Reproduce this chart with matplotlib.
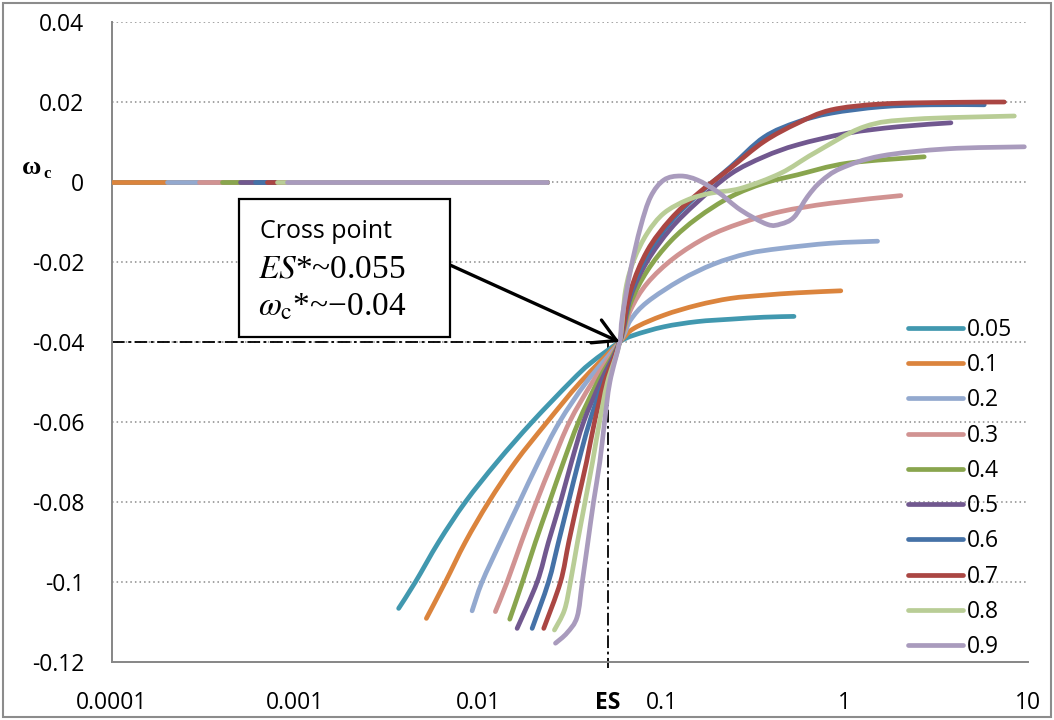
import matplotlib
matplotlib.use("Agg")
import numpy as np
import matplotlib.pyplot as plt
from matplotlib.patches import Rectangle, PathPatch
from matplotlib.path import Path
from matplotlib.lines import Line2D

plt.rcParams["font.family"] = ["Open Sans", "DejaVu Sans"]
plt.rcParams["mathtext.fontset"] = "stix"

# series labels / colours (Excel 2007 palette)
labels = ["0.05", "0.1", "0.2", "0.3", "0.4", "0.5", "0.6", "0.7", "0.8", "0.9"]
colors = ["#4198AF", "#DB843D", "#93A9CF", "#D19392", "#89A54E",
          "#71588F", "#4572A7", "#AA4643", "#B9CD96", "#A99BBD"]

# flat omega_c = 0 part of each series (start, end)
zero_start = [0.0001, 0.0001, 0.0002, 0.0003, 0.0004, 0.0005, 0.0006, 0.0007, 0.0008, 0.0009]
zero_end = 0.0238

# main curves
x_005 = [0.00367, 0.00453, 0.00607, 0.00849, 0.01265, 0.01965, 0.0318, 0.0409, 0.059,
         0.0706, 0.1029, 0.1567, 0.238, 0.362, 0.528]
y_005 = [-0.1066, -0.1, -0.09, -0.08, -0.07, -0.06, -0.05, -0.0453, -0.04,
         -0.0383, -0.0362, -0.0349, -0.0343, -0.0338, -0.0336]

x_01 = [0.0052, 0.0066, 0.00849, 0.01138, 0.01593, 0.02373, 0.0361, 0.059,
        0.0706, 0.1029, 0.1567, 0.238, 0.362, 0.552, 0.951]
y_01 = [-0.1091, -0.1, -0.09, -0.08, -0.07, -0.06, -0.05, -0.04,
        -0.0366, -0.0333, -0.0308, -0.0291, -0.0283, -0.0277, -0.0272]

x_02 = [0.00924, 0.01047, 0.01319, 0.01675, 0.02128, 0.02771, 0.03892, 0.059,
        0.0677, 0.0835, 0.127, 0.193, 0.294, 0.447, 0.839, 1.509]
y_02 = [-0.1072, -0.1, -0.09, -0.08, -0.07, -0.06, -0.05, -0.04,
        -0.0345, -0.0300, -0.0245, -0.0205, -0.0179, -0.0166, -0.0153, -0.0148]

x_03 = [0.01238, 0.01435, 0.01718, 0.02074, 0.02537, 0.03142, 0.04198, 0.059,
        0.0677, 0.0835, 0.1168, 0.1777, 0.270, 0.447, 0.839, 2.023]
y_03 = [-0.1074, -0.1, -0.09, -0.08, -0.07, -0.06, -0.05, -0.04,
        -0.032, -0.0253, -0.0190, -0.0137, -0.0103, -0.0074, -0.0053, -0.0034]

x_04 = [0.01483, 0.0174, 0.02049, 0.02443, 0.02914, 0.03519, 0.04469, 0.059,
        0.0677, 0.0835, 0.112, 0.1567, 0.238, 0.362, 0.552, 1.035, 2.713]
y_04 = [-0.1093, -0.1, -0.09, -0.08, -0.07, -0.06, -0.05, -0.04,
        -0.0303, -0.0222, -0.0148, -0.0090, -0.0037, -0.0003, 0.0018, 0.0047, 0.0063]

x_05 = [0.01627, 0.02093, 0.02413, 0.02806, 0.03222, 0.0375, 0.04642, 0.059,
        0.0677, 0.0835, 0.112, 0.1567, 0.238, 0.362, 0.552, 1.035, 1.941, 3.795]
y_05 = [-0.1116, -0.1, -0.09, -0.08, -0.07, -0.06, -0.05, -0.04,
        -0.0287, -0.0198, -0.0117, -0.0050, 0.0020, 0.0063, 0.0093, 0.0122, 0.0138, 0.0148]

x_06 = [0.01965, 0.02413, 0.02737, 0.03102, 0.03519, 0.04043, 0.04819, 0.059,
        0.0677, 0.0835, 0.112, 0.1567, 0.238, 0.362, 0.552, 0.839, 1.573, 2.951, 5.77]
y_06 = [-0.1116, -0.1, -0.09, -0.08, -0.07, -0.06, -0.05, -0.04,
        -0.0280, -0.0182, -0.0100, -0.0033, 0.0038, 0.0112, 0.0150, 0.0172, 0.0188, 0.0193, 0.0193]

x_07 = [0.02274, 0.02806, 0.03114, 0.03475, 0.03892, 0.04304, 0.0488, 0.059,
        0.0677, 0.0835, 0.112, 0.1567, 0.238, 0.362, 0.552, 0.839, 1.573, 3.64, 7.42]
y_07 = [-0.1116, -0.1, -0.09, -0.08, -0.07, -0.06, -0.05, -0.04,
        -0.0272, -0.0172, -0.0093, -0.0030, 0.0035, 0.0101, 0.0147, 0.018, 0.0195, 0.0199, 0.02]

x_08 = [0.026, 0.0295, 0.0318, 0.03475, 0.0382, 0.04198, 0.04583, 0.0507, 0.059,
        0.0636, 0.0706, 0.0835, 0.1029, 0.138, 0.185, 0.270, 0.447, 0.68, 1.275, 2.39, 8.42]
y_08 = [-0.112, -0.107, -0.1, -0.09, -0.08, -0.07, -0.06, -0.05, -0.04,
        -0.027, -0.0195, -0.0128, -0.0078, -0.0045, -0.0028, -0.0016, 0.0022, 0.0072, 0.0138, 0.0157, 0.0165]

x_09 = [0.02635, 0.0305, 0.0346, 0.0369, 0.0396, 0.0425, 0.046, 0.0488, 0.0522, 0.059,
        0.061, 0.0677, 0.0768, 0.0871, 0.1029, 0.127, 0.1567, 0.2016, 0.270, 0.378,
        0.447, 0.528, 0.625, 0.74, 0.951, 1.573, 3.64, 9.55]
y_09 = [-0.1153, -0.1127, -0.1087, -0.1, -0.09, -0.08, -0.07, -0.06, -0.05, -0.04,
        -0.0337, -0.022, -0.0112, -0.0037, 0.0005, 0.0015, 0.0005, -0.0024, -0.0070, -0.0106,
        -0.0105, -0.0088, -0.0037, 0.0001, 0.0034, 0.0065, 0.0083, 0.0088]

curves_x = [x_005, x_01, x_02, x_03, x_04, x_05, x_06, x_07, x_08, x_09]
curves_y = [y_005, y_01, y_02, y_03, y_04, y_05, y_06, y_07, y_08, y_09]

es_line = 0.051
cross_x, cross_y = 0.059, -0.04

y_ticks = [0.04, 0.02, 0, -0.02, -0.04, -0.06, -0.08, -0.1, -0.12]
y_tick_labels = ["0.04", "0.02", "0", "-0.02", "-0.04", "-0.06", "-0.08", "-0.1", "-0.12"]
x_ticks = [0.0001, 0.001, 0.01, es_line, 0.1, 1, 10]
x_tick_labels = ["0.0001", "0.001", "0.01", "ES", "0.1", "1", "10"]


def smooth_path(xs, ys):
    """Excel-style smoothed line: Catmull-Rom Bezier through the points (in log x)."""
    p = np.column_stack([np.log10(xs), ys])
    verts = [p[0]]
    codes = [Path.MOVETO]
    n = len(p)
    for i in range(n - 1):
        p0 = p[i - 1] if i > 0 else p[i]
        p3 = p[i + 2] if i + 2 < n else p[i + 1]
        verts += [p[i] + (p[i + 1] - p0) / 6, p[i + 1] - (p3 - p[i]) / 6, p[i + 1]]
        codes += [Path.CURVE4] * 3
    verts = np.array(verts)
    verts[:, 0] = 10 ** verts[:, 0]
    return Path(verts, codes)


W, H = 1054, 720
fig = plt.figure(figsize=(W / 100, H / 100), dpi=100)
ax = fig.add_axes([112 / W, 1 - 662 / H, (1028 - 112) / W, (662 - 22) / H])

ax.set_xscale("log")
ax.set_xlim(1e-4, 10)
ax.set_ylim(-0.12, 0.04)

for yv in y_ticks[:-1]:
    ax.axhline(yv, color="#8a8a8a", lw=1.1, linestyle=(0, (1, 2)), zorder=1)

handles = []
for i in range(len(labels)):
    ax.plot([zero_start[i], zero_end], [0, 0], color=colors[i], lw=3.4,
            solid_capstyle="round", zorder=3)
    ax.add_patch(PathPatch(smooth_path(curves_x[i], curves_y[i]), fill=False,
                           edgecolor=colors[i], lw=3.4, capstyle="round",
                           joinstyle="round", zorder=3))
    handles.append(Line2D([], [], color=colors[i], lw=3.4,
                          solid_capstyle="round", label=labels[i]))

# dash-dot guide lines to the cross point
ax.plot([1e-4, es_line], [cross_y, cross_y], color="black", lw=1.3,
        dashes=[7, 2, 1.5, 2], zorder=2)
ax.plot([es_line, es_line], [cross_y, -0.1215], color="black", lw=1.3,
        dashes=[7, 2, 1.5, 2], zorder=2, clip_on=False)

for s in ["top", "right"]:
    ax.spines[s].set_visible(False)
for s in ["left", "bottom"]:
    ax.spines[s].set_color("#868686")
    ax.spines[s].set_linewidth(1.4)

ax.set_yticks(y_ticks)
ax.set_yticklabels(y_tick_labels)
ax.set_xticks(x_ticks)
ax.set_xticklabels(x_tick_labels)
ax.minorticks_off()
ax.tick_params(axis="y", length=0, pad=20, labelsize=16.5)
ax.tick_params(axis="x", length=0, pad=21, labelsize=16.5)
for t in ax.get_xticklabels():
    if t.get_text() == "ES":
        t.set_fontweight("bold")

ax.legend(handles=handles, loc="upper left", bbox_to_anchor=(908 / W, 1 - 318 / H),
          bbox_transform=fig.transFigure, frameon=False, fontsize=16.5,
          handlelength=2.4, handletextpad=0.15, labelspacing=0.49,
          borderpad=0, borderaxespad=0)

# y axis title
fig.text(32 / W, 1 - 168 / H, "ω", family="Liberation Serif", fontweight="bold",
         fontsize=19, ha="center", va="center")
fig.text(47 / W, 1 - 174 / H, "c", family="Liberation Serif", fontweight="bold",
         fontsize=12, ha="center", va="center")

# annotation box
fig.patches.append(Rectangle((239 / W, 1 - 337 / H), (450 - 239) / W, (337 - 199) / H,
                             transform=fig.transFigure, facecolor="white",
                             edgecolor="black", lw=1.6, zorder=5))
fig.text(260 / W, 1 - 231 / H, "Cross point", fontsize=18, ha="left", va="center", zorder=6)
fig.text(258 / W, 1 - 269 / H, r"$ES$*~0.055", family="Liberation Serif", fontsize=24,
         ha="left", va="center", zorder=6)
fig.text(258 / W, 1 - 307 / H, r"$\omega_{\rm c}$*~−0.04", family="Liberation Serif",
         fontsize=24, ha="left", va="center", zorder=6)
ax.annotate("", xy=(cross_x, cross_y), xycoords="data",
            xytext=(450 / W, 1 - 265 / H), textcoords="figure fraction",
            arrowprops=dict(arrowstyle="->,head_length=0.8,head_width=0.45",
                            mutation_scale=20, lw=2.4, color="black",
                            shrinkA=0, shrinkB=0), zorder=6)

# chart area border
fig.patches.append(Rectangle((3 / W, 3 / H), (W - 6) / W, (H - 6) / H,
                             transform=fig.transFigure, fill=False,
                             edgecolor="#8c8c8c", lw=1.5))

fig.savefig("out.png", dpi=100)
